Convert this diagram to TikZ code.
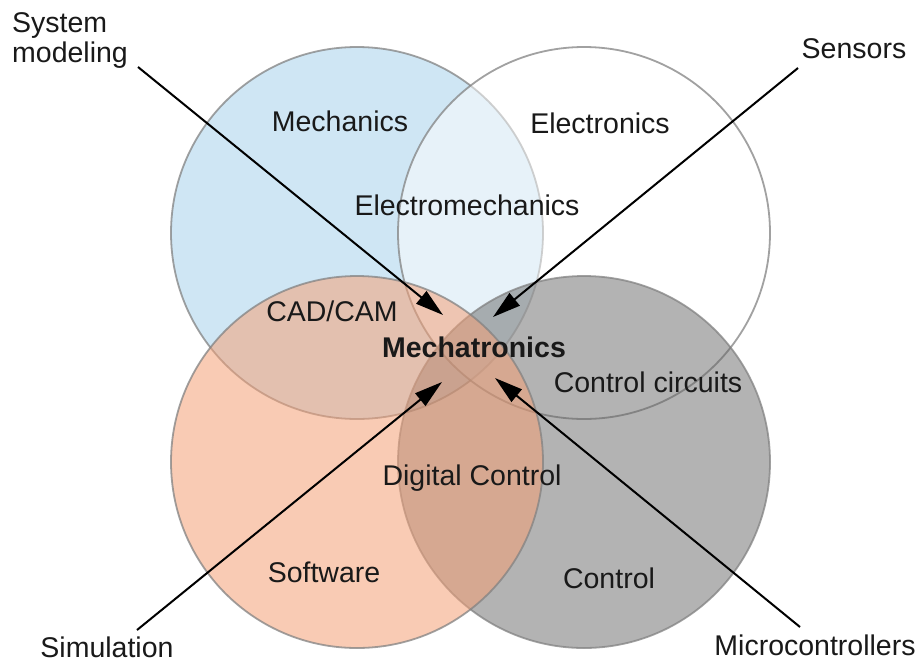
\documentclass[tikz,border=0pt]{standalone}
\usepackage{fontspec}
\setmainfont{Liberation Sans}
\usetikzlibrary{arrows.meta}
\definecolor{mblue}{RGB}{207,230,244}
\definecolor{salmon}{RGB}{244,160,118}
\definecolor{cgray}{RGB}{100,100,100}
\definecolor{bordergray}{RGB}{130,130,130}
\tikzset{
  venn/.style={circle, minimum size=372pt, inner sep=0pt, line width=1.8pt, draw=bordergray, draw opacity=0.75},
  lbl/.style={font=\fontsize{28.5}{30}\selectfont, inner sep=0pt, anchor=base, text=black!90},
  arr/.style={line width=2pt, -{Triangle[length=28pt,width=16pt]}},
}
\begin{document}
\begin{tikzpicture}[x=1pt,y=-1pt]
\useasboundingbox (0,0) rectangle (920,662);
\fill[white] (0,0) rectangle (920,662);
% circles
\node[venn, fill=mblue] (mech) at (357,233) {};
\node[venn, fill=white, fill opacity=0.5] (elec) at (584,233) {};
\node[venn, fill=cgray, fill opacity=0.49] (ctrl) at (584,462) {};
\node[venn, fill=salmon, fill opacity=0.54] (soft) at (357,462) {};
% region labels
\node[lbl] (tmech) at (340,131) {Mechanics};
\node[lbl] (telec) at (600,133) {Electronics};
\node[lbl] (temech) at (467,215) {Electromechanics};
\node[lbl] (tcad) at (332,321) {CAD/CAM};
\node[lbl, font=\fontsize{28.5}{30}\selectfont\bfseries] (tmecha) at (474,357) {Mechatronics};
\node[lbl] (tcc) at (648,392) {Control circuits};
\node[lbl] (tdc) at (472,485) {Digital Control};
\node[lbl] (tsoft) at (324,582) {Software};
\node[lbl] (tctrl) at (609,588) {Control};
% outer labels
\node[lbl, anchor=north west, align=left] (tsys) at (12,12.5) {System\\modeling};
\node[lbl] (tsens) at (854,58) {Sensors};
\node[lbl] (tsim) at (107,657) {Simulation};
\node[lbl] (tmicro) at (815,655) {Microcontrollers};
% arrow ends
\coordinate (sysA) at (138,67);
\coordinate (sysB) at (443,315);
\coordinate (sensA) at (798,68);
\coordinate (sensB) at (493,317);
\coordinate (simA) at (137,630);
\coordinate (simB) at (442,382);
\coordinate (micA) at (800,627);
\coordinate (micB) at (495,378);
\draw[arr] (sysA) -- (sysB);
\draw[arr] (sensA) -- (sensB);
\draw[arr] (simA) -- (simB);
\draw[arr] (micA) -- (micB);
\end{tikzpicture}
\end{document}
